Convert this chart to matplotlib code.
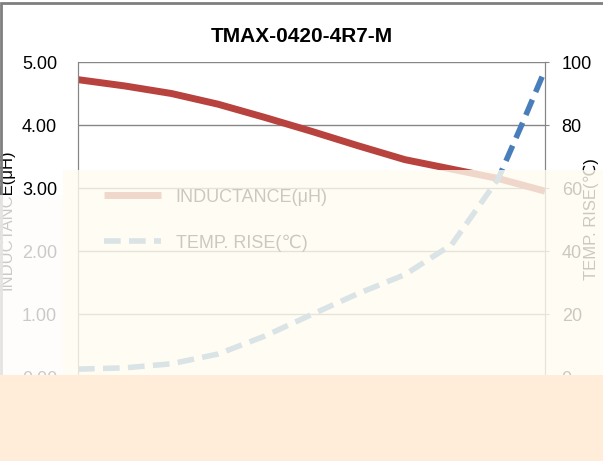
import numpy as np
import matplotlib
matplotlib.use('Agg')
from matplotlib import pyplot as plt
from matplotlib.patches import Rectangle

plt.rcParams['font.family'] = ['Liberation Sans', 'DejaVu Sans']

# current (A) vs inductance and temperature rise
current = [0, 1, 2, 3, 4, 5, 6, 7, 8, 9, 9.5, 10]
inductance = [4.72, 4.62, 4.50, 4.33, 4.12, 3.90, 3.67, 3.45, 3.30, 3.15, 3.05, 2.95]
temp_rise = [2.5, 2.9, 4.2, 7.3, 13.0, 19.8, 26.5, 32.5, 42.0, 63.0, 80.0, 97.5]

left_ticks = [0, 1, 2, 3, 4, 5]
right_ticks = [0, 20, 40, 60, 80, 100]

W, H = 603, 461
fig = plt.figure(figsize=(W / 100, H / 100), dpi=100)
fig.patch.set_facecolor('white')

ax = fig.add_axes([78 / W, 1 - 377 / H, (545 - 78) / W, (377 - 62) / H])
ax2 = ax.twinx()

grid_c = '#868686'
ax.set_ylim(0, 5)
ax.set_yticks(left_ticks)
ax.set_yticklabels(['%.2f' % v for v in left_ticks], fontsize=13)
ax.set_xlim(0, 10)
ax.set_xticks(range(0, 11))
ax.set_xlabel('CURRENT(A)', fontsize=12)
ax.grid(axis='y', color=grid_c, linewidth=1)
ax.set_axisbelow(True)
ax.set_ylabel('INDUCTANCE(μH)', fontsize=12)
ax.yaxis.set_label_coords(-0.135, 0.5)

ax2.set_ylim(0, 100)
ax2.set_yticks(right_ticks)
ax2.set_yticklabels([str(v) for v in right_ticks], fontsize=13)
ax2.set_ylabel('TEMP. RISE(℃)', fontsize=12, va='center')
ax2.yaxis.set_label_coords(1.1, 0.5)

for a in (ax, ax2):
    a.spines['top'].set_visible(False)
    for s in ('left', 'right', 'bottom'):
        a.spines[s].set_color(grid_c)
ax.tick_params(axis='y', length=0, pad=15)
ax.tick_params(axis='x', length=4, color=grid_c)
ax2.tick_params(axis='y', length=3, color=grid_c, pad=9)

l1, = ax.plot(current, inductance, color='#B8423E', linewidth=5,
              solid_capstyle='butt', label='INDUCTANCE(μH)')
l2, = ax2.plot(current, temp_rise, color='#4A7EBB', linewidth=4,
               linestyle=(0, (3, 1.5)), label='TEMP. RISE(℃)')

leg = ax.legend(handles=[l1, l2], loc='upper left', bbox_to_anchor=(0.02, 0.65),
                frameon=False, labelspacing=1.6, handlelength=3.2,
                prop={'size': 13})

fig.suptitle('TMAX-0420-4R7-M', y=1 - 36 / H, fontsize=15, fontweight='bold', va='center')

# outer chart border
fig.patches.append(Rectangle((1 / W, -0.1), 1.2, 1 - 3 / H + 0.1, transform=fig.transFigure,
                             fill=False, edgecolor='#7F7F7F', linewidth=2, zorder=20))

# washed out band and the flat peach area at the bottom
fig.patches.append(Rectangle((63 / W, 1 - 375 / H), 1, (375 - 170) / H, transform=fig.transFigure,
                             facecolor='#FFFDF0', alpha=0.8, edgecolor='none', zorder=21))
fig.patches.append(Rectangle((0, 1 - 375 / H), 63 / W, (375 - 195) / H, transform=fig.transFigure,
                             facecolor='#FFFDFB', alpha=0.8, edgecolor='none', zorder=21))
fig.patches.append(Rectangle((0, 0), 1, 1 - 375 / H, transform=fig.transFigure,
                             facecolor='#FFEDDA', edgecolor='none', zorder=22))

plt.savefig('out.png', dpi=100)
